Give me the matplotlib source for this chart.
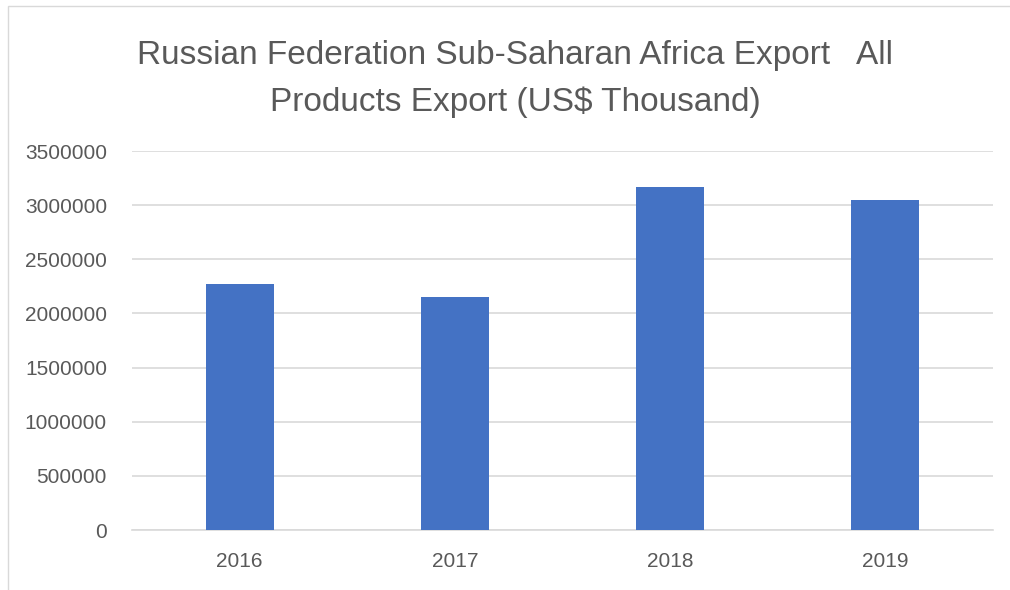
import matplotlib.pyplot as plt
from matplotlib.patches import Rectangle

years = ['2016', '2017', '2018', '2019']
exports = [2276000, 2156000, 3170000, 3043000]
yticks = [0, 500000, 1000000, 1500000, 2000000, 2500000, 3000000, 3500000]

plt.rcParams['font.family'] = ['Liberation Sans', 'DejaVu Sans']

fig = plt.figure(figsize=(10.1, 5.9), dpi=100)
ax = fig.add_axes([132 / 1010, 60 / 590, (993 - 132) / 1010, (530 - 151) / 590])

ax.bar(years, exports, width=0.316, color='#4472C4', zorder=3)

ax.set_ylim(0, 3500000)
ax.set_yticks(yticks)
ax.set_yticklabels([str(v) for v in yticks])
ax.set_xlim(-0.5, 3.5)
ax.grid(axis='y', color='#d9d9d9', linewidth=1.2, zorder=0)
for s in ['top', 'right', 'left']:
    ax.spines[s].set_visible(False)
ax.spines['bottom'].set_color('#d9d9d9')
ax.spines['bottom'].set_linewidth(1.2)
ax.tick_params(axis='both', length=0, labelsize=15, colors='#595959')
ax.tick_params(axis='x', pad=16)
ax.tick_params(axis='y', pad=18)

fig.text(0.51, 0.866, 'Russian Federation Sub-Saharan Africa Export   All\nProducts Export (US$ Thousand)',
         ha='center', va='center', fontsize=24, color='#595959', linespacing=1.6)

# chart border
fig.patches.append(Rectangle((8 / 1010, -0.05), 1.0, 1.04, transform=fig.transFigure,
                             fill=False, edgecolor='#d9d9d9', linewidth=1))

fig.savefig('out.png', dpi=100)
